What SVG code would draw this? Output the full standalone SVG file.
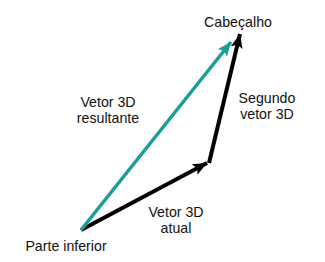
<svg xmlns="http://www.w3.org/2000/svg" width="325" height="262" viewBox="0 0 325 262">
  <style>
    .lbl { font-family: "Liberation Sans", Arial, sans-serif; font-size: 14.2px; fill: #111; text-anchor: middle; }
    .vec-k { stroke: #000; stroke-width: 4; fill: none; }
    .vec-t { stroke: #1a9e96; stroke-width: 3.5; fill: none; }
  </style>
  <defs>
    <marker id="head-k" markerUnits="userSpaceOnUse" markerWidth="16" markerHeight="14" refX="14" refY="6" orient="auto">
      <path d="M0,0 L14,6 L0,12 L3,6 Z" fill="#000"/>
    </marker>
    <marker id="head-t" markerUnits="userSpaceOnUse" markerWidth="16" markerHeight="14" refX="14" refY="6" orient="auto">
      <path d="M0,0 L14,6 L0,12 L3,6 Z" fill="#1a9e96"/>
    </marker>
  </defs>

  <g id="connectors">
    <line id="current-vector" class="vec-k" x1="81" y1="230" x2="207" y2="163" marker-end="url(#head-k)"/>
    <line id="second-vector" class="vec-k" x1="209" y1="163" x2="240" y2="34" marker-end="url(#head-k)"/>
    <line id="result-vector" class="vec-t" x1="81" y1="230" x2="231" y2="42" marker-end="url(#head-t)"/>
  </g>

  <g id="node-head">
    <text class="lbl" x="238" y="27">Cabeçalho</text>
  </g>
  <g id="node-bottom">
    <text class="lbl" x="66" y="251">Parte inferior</text>
  </g>
  <g id="label-result">
    <text class="lbl" x="108" y="107">Vetor 3D</text>
    <text class="lbl" x="108" y="123">resultante</text>
  </g>
  <g id="label-second">
    <text class="lbl" x="267" y="103">Segundo</text>
    <text class="lbl" x="267" y="119">vetor 3D</text>
  </g>
  <g id="label-current">
    <text class="lbl" x="176" y="217">Vetor 3D</text>
    <text class="lbl" x="176" y="233">atual</text>
  </g>
</svg>
